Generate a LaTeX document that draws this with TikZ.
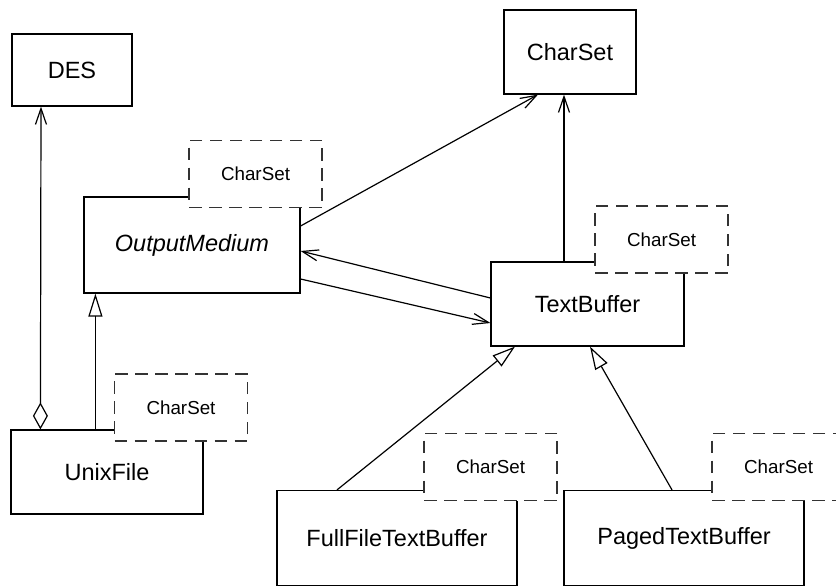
\documentclass[tikz,border=0pt]{standalone}
\usepackage{fontspec}
\setmainfont{Liberation Sans}
\usetikzlibrary{arrows.meta}
\tikzset{
  cls/.style={draw, line width=1.2pt, inner sep=0pt, fill=white,
    font=\fontsize{23.5}{28}\selectfont},
  tmpl/.style={draw=black!80, line width=1.2pt, dash pattern=on 12.5pt off 7.5pt,
    fill=white, inner sep=0pt, minimum width=133pt, minimum height=67pt,
    font=\fontsize{18.8}{22}\selectfont},
  conn/.style={line width=1.2pt},
  nav/.style={conn, -{Straight Barb[length=16pt,width=11pt]}},
  gen/.style={conn, -{Triangle[open,length=23pt,width=14pt]}},
  aggr/.style={conn, {Diamond[open,length=27pt,width=15pt]}-{Straight Barb[length=16pt,width=11pt]}}
}
\begin{document}
\begin{tikzpicture}[x=1pt,y=-1pt]
\useasboundingbox (0,0) rectangle (836,586);
\fill[white] (0,0) rectangle (836,586);

% classes
\node[cls, minimum width=120pt, minimum height=72pt] (des) at (72,70) {DES};
\node[cls, minimum width=132pt, minimum height=84pt] (cs) at (570,52) {CharSet};
\node[cls, minimum width=216pt, minimum height=96pt] (om) at (192,245) {\itshape OutputMedium};
\node[cls, minimum width=193pt, minimum height=84pt] (tb) at (587.5,304) {TextBuffer};
\node[cls, minimum width=192pt, minimum height=84pt] (unix) at (107,472) {UnixFile};
\node[cls, minimum width=240pt, minimum height=95pt] (ff) at (397,538) {FullFileTextBuffer};
\node[cls, minimum width=240pt, minimum height=95pt] (pg) at (684,538) {PagedTextBuffer};

% connectors
\draw[aggr] ([xshift=30pt]unix.north west) -- ([xshift=-31pt]des.south);
\draw[gen] ([xshift=85pt]unix.north west) -- ([xshift=12pt]om.south west);
\draw[nav] ([yshift=19pt]om.east) -- ([xshift=-32pt]cs.south);
\draw[nav] ([xshift=-23.5pt]tb.north) -- ([xshift=-6pt]cs.south);
\draw[nav] ([yshift=6pt]tb.west) -- ([yshift=-6pt]om.east);
\draw[nav] ([yshift=-34pt]om.east) -- ([yshift=-19pt]tb.west);
\draw[gen] ([xshift=-60pt]ff.north) -- ([xshift=-72.5pt]tb.south);
\draw[gen] ([xshift=-12pt]pg.north) -- ([xshift=2.5pt]tb.south);

% template parameters
\node[tmpl] (t1) at (255.5,174) {CharSet};
\node[tmpl] (t2) at (661.5,239.5) {CharSet};
\node[tmpl] (t3) at (181,407.5) {CharSet};
\node[tmpl] (t4) at (490.5,467) {CharSet};
\node[tmpl] (t5) at (778.5,467) {CharSet};
\end{tikzpicture}
\end{document}
